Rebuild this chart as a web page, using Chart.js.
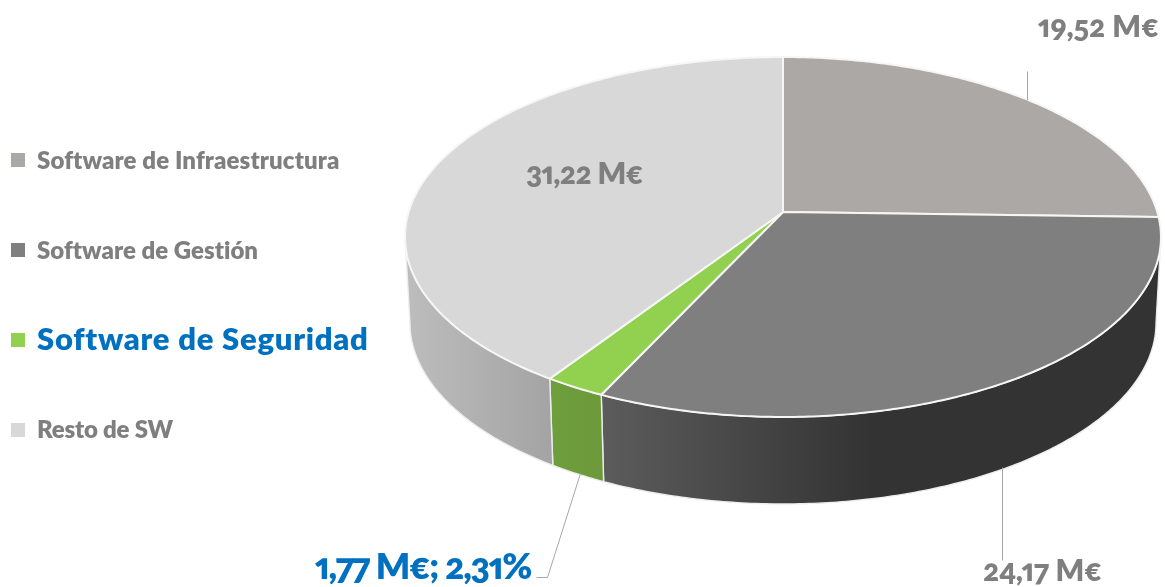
<!DOCTYPE html>
<html><head><meta charset="utf-8">
<script src="https://cdn.jsdelivr.net/npm/chart.js@4"></script>
<style>
html,body{margin:0;padding:0;background:#fff;width:1165px;height:587px;overflow:hidden}
#wrap{position:relative;width:1165px;height:587px}
canvas{position:absolute;left:0;top:0}
.t{position:absolute;white-space:nowrap;font-family:Lato,sans-serif;font-weight:800;line-height:1;font-feature-settings:"onum" 1,"pnum" 1;font-variant-numeric:oldstyle-nums proportional-nums}
.k{position:absolute;width:14px;height:14px}
</style></head><body>
<div id="wrap"><canvas id="c" width="1165" height="587"></canvas></div>
<script>
const categories=["Software de Infraestructura","Software de Gestión","Software de Seguridad","Resto de SW"];
const values=[19.52,24.17,1.77,31.22];
const valueLabels=["19,52 M€","24,17 M€","1,77 M€; 2,31%","31,22 M€"];
const faceColors=["#ACA8A6","#7F7F7F","#92D050","#D8D8D8"];
const wallColors=[["#8a8785","#8a8785"],["#5C5C5C","#333333"],["#6F9E3D","#6C9A3A"],["#BDBDBD","#A4A4A4"]];
const legendBoxes=[153,243,333,423];
// text: x, baseline, target width, font size, colour
const legendText=[[37,168,302,24,"#7F7F7F"],[37,258,221,24,"#7F7F7F"],[37,349,331,31,"#0070C0"],[37,437,136,24,"#7F7F7F"]];
const labelText=[[1038,35,121,30,"#7F7F7F"],[983,579,119,30,"#7F7F7F"],[315,578,216,36,"#0070C0"],[526,182,117,30,"#7F7F7F"]];
const leaders=[[[1027,71],[1027,100]],[[1002,467],[1002,560]],[[580,473],[547,577],[536,577]]];

// perspective projection of the pie disc
const P={x0:783,y0:212,a:374.3,b:176.5,k:0.1389,shrink:0.987,depth:85.5,depthV:1.5};
function proj(th,bottom){
  const u=Math.sin(th),v=-Math.cos(th),w=1-P.k*v;
  let x=P.a*u/w,y=P.b*v/w;
  if(bottom){x*=P.shrink;y+=P.depth+P.depthV*v;}
  return [P.x0+x,P.y0+y];
}
const TH0=Math.acos(-P.k),TH1=2*Math.PI-TH0; // silhouette limits
function edge(ctx,a,b,bottom){
  const n=Math.max(2,Math.ceil(Math.abs(b-a)*90));
  for(let i=0;i<=n;i++){const p=proj(a+(b-a)*i/n,bottom);ctx.lineTo(p[0],p[1]);}
}
const pie3d={
  id:'pie3d',
  beforeDatasetDraw(chart,args){
    const ctx=chart.ctx,arcs=args.meta.data;
    ctx.save();ctx.lineJoin='round';
    // walls
    arcs.forEach((arc,i)=>{
      const a=Math.max(arc.startAngle+Math.PI/2,TH0),b=Math.min(arc.endAngle+Math.PI/2,TH1);
      if(b<=a)return;
      const pa=proj(a,false),pb=proj(b,false);
      const left=Math.min(pa[0],pb[0]);
      const g=ctx.createLinearGradient(left,0,left+(i===1?270:Math.abs(pa[0]-pb[0])),0);
      const c=wallColors[i];
      g.addColorStop(0,c[0]);g.addColorStop(1,c[1]);
      ctx.beginPath();
      ctx.moveTo(pa[0],pa[1]);
      edge(ctx,a,b,false);
      edge(ctx,b,a,true);
      ctx.closePath();
      ctx.fillStyle=g;ctx.fill();
      ctx.strokeStyle='#EDEDED';ctx.lineWidth=1.4;ctx.stroke();
    });
    // top faces
    arcs.forEach((arc,i)=>{
      const a=arc.startAngle+Math.PI/2,b=arc.endAngle+Math.PI/2;
      ctx.beginPath();ctx.moveTo(P.x0,P.y0);
      edge(ctx,a,b,false);
      ctx.closePath();
      ctx.fillStyle=faceColors[i];ctx.fill();
      ctx.strokeStyle='#F6F6F6';ctx.lineWidth=2;ctx.stroke();
    });
    ctx.restore();
    return false;
  },
  afterDraw(chart){
    const ctx=chart.ctx;
    ctx.save();ctx.strokeStyle='#A6A6A6';ctx.lineWidth=1;
    leaders.forEach(l=>{
      ctx.beginPath();
      l.forEach((p,i)=>i?ctx.lineTo(p[0]+.5,p[1]+.5):ctx.moveTo(p[0]+.5,p[1]+.5));
      ctx.stroke();
    });
    ctx.restore();
  }
};
new Chart(document.getElementById('c'),{
  type:'pie',
  data:{labels:categories,datasets:[{data:values,backgroundColor:faceColors}]},
  options:{responsive:false,animation:false,events:[],plugins:{legend:{display:false},tooltip:{enabled:false},title:{display:false}}},
  plugins:[pie3d]
});
const wrap=document.getElementById('wrap');
function put(str,d){
  const s=document.createElement('div');s.className='t';s.textContent=str;
  s.style.left=d[0]+'px';s.style.fontSize=d[3]+'px';s.style.color=d[4];
  s.style.top=(d[1]-d[3]*0.85)+'px';
  wrap.appendChild(s);
  const w=s.getBoundingClientRect().width;
  s.style.letterSpacing=((d[2]-w)/str.length)+'px';
}
categories.forEach((c,i)=>{
  const k=document.createElement('div');k.className='k';k.style.left='11px';k.style.top=legendBoxes[i]+'px';k.style.background=faceColors[i];wrap.appendChild(k);
  put(c,legendText[i]);
  put(valueLabels[i],labelText[i]);
});
</script>
</body></html>
